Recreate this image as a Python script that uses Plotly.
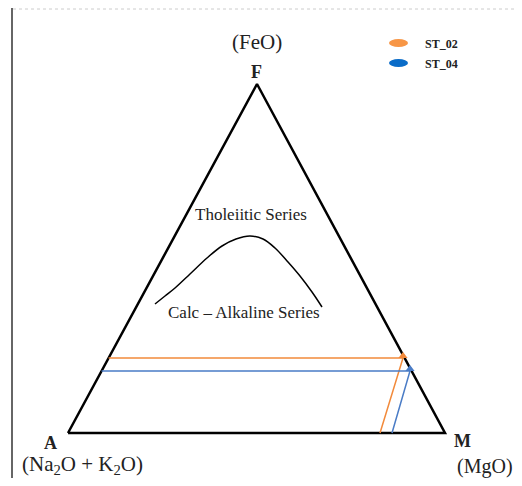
import numpy as np
import plotly.graph_objects as go

# ---- data (diagram coordinates, y grows downward) ----
vertex_names = ["A", "F", "M"]
vertex_x = [68, 257, 445]
vertex_y = [433, 84, 433]

curve_x = [155, 165, 175, 190, 207, 222, 236, 250, 263, 275, 288, 300, 312, 322]
curve_y = [304, 296, 288, 274, 258, 246, 239, 236, 239, 248, 262, 276, 292, 307]

sample_names = ["ST_02", "ST_04"]
sample_colors = ["#F28A3B", "#4A7CC6"]
legend_colors = ["#F79646", "#0A6CC8"]
sample_x = [403, 410]
sample_y = [358, 371]
sample_base_x = [380, 392]

# page body has an 8px margin; shift the axes so diagram units equal window pixels
OFF = 8
W, H = 522 - 2 * OFF, 486 - 2 * OFF

fig = go.Figure()

tx = vertex_x + [vertex_x[0]]
ty = vertex_y + [vertex_y[0]]
fig.add_trace(go.Scatter(x=tx, y=ty, mode="lines",
                         line=dict(color="black", width=2.5), hoverinfo="skip"))

fig.add_trace(go.Scatter(x=curve_x, y=curve_y, mode="lines", line_shape="spline",
                         line=dict(color="black", width=1.5), hoverinfo="skip"))

ax, fx = vertex_x[0], vertex_x[1]
ay, fy = vertex_y[0], vertex_y[1]
for i, name in enumerate(sample_names):
    t = (ay - sample_y[i]) / (ay - fy)
    left_x = ax + t * (fx - ax)
    fig.add_trace(go.Scatter(x=[left_x, sample_x[i], sample_base_x[i]],
                             y=[sample_y[i], sample_y[i], vertex_y[0]],
                             mode="lines", line=dict(color=sample_colors[i], width=1.5),
                             hoverinfo="skip"))
    fig.add_trace(go.Scatter(x=[sample_x[i]], y=[sample_y[i] - 2], mode="markers",
                             marker=dict(symbol="triangle-up", size=8, color=sample_colors[i]),
                             hoverinfo="skip"))

serif = "Liberation Serif, Times New Roman, serif"
ann = [
    (257, 42, "(FeO)", 21),
    (256, 72, "<b>F</b>", 18),
    (50, 443, "<b>A</b>", 18),
    (82, 465, "(Na<sub>2</sub>O + K<sub>2</sub>O)", 21),
    (462, 441, "<b>M</b>", 18),
    (485, 466, "(MgO)", 20),
    (251, 214, "Tholeiitic Series", 17),
    (244, 312, "Calc \u2013 Alkaline Series", 17),
]
annotations = []
for x, y, text, size in ann:
    annotations.append(dict(x=x, y=y, text=text, showarrow=False,
                            xref="x", yref="y", xanchor="center", yanchor="middle",
                            font=dict(family=serif, color="#222", size=size)))

shapes = [
    dict(type="line", x0=12, x1=12, y0=8, y1=483, xref="x", yref="y",
         line=dict(color="#666", width=2)),
    dict(type="line", x0=13, x1=520, y0=9, y1=9, xref="x", yref="y",
         line=dict(color="#ccc", width=1, dash="dot")),
]
legend_y = [43, 63]
for i, name in enumerate(sample_names):
    shapes.append(dict(type="circle", x0=389, x1=408, y0=legend_y[i] - 4, y1=legend_y[i] + 4,
                       xref="x", yref="y", fillcolor=legend_colors[i], line=dict(width=0)))
    annotations.append(dict(x=423, y=legend_y[i] + 1, text="<b>" + name + "</b>", showarrow=False,
                            xref="x", yref="y", xanchor="left", yanchor="middle",
                            font=dict(family=serif, size=12, color="#222")))

fig.update_layout(
    width=W, height=H,
    margin=dict(l=0, r=0, t=0, b=0),
    paper_bgcolor="white", plot_bgcolor="white",
    showlegend=False,
    xaxis=dict(range=[OFF, OFF + W], visible=False, fixedrange=True),
    yaxis=dict(range=[OFF + H, OFF], visible=False, fixedrange=True),
    annotations=annotations,
    shapes=shapes,
)

fig.write_html("out.html")
